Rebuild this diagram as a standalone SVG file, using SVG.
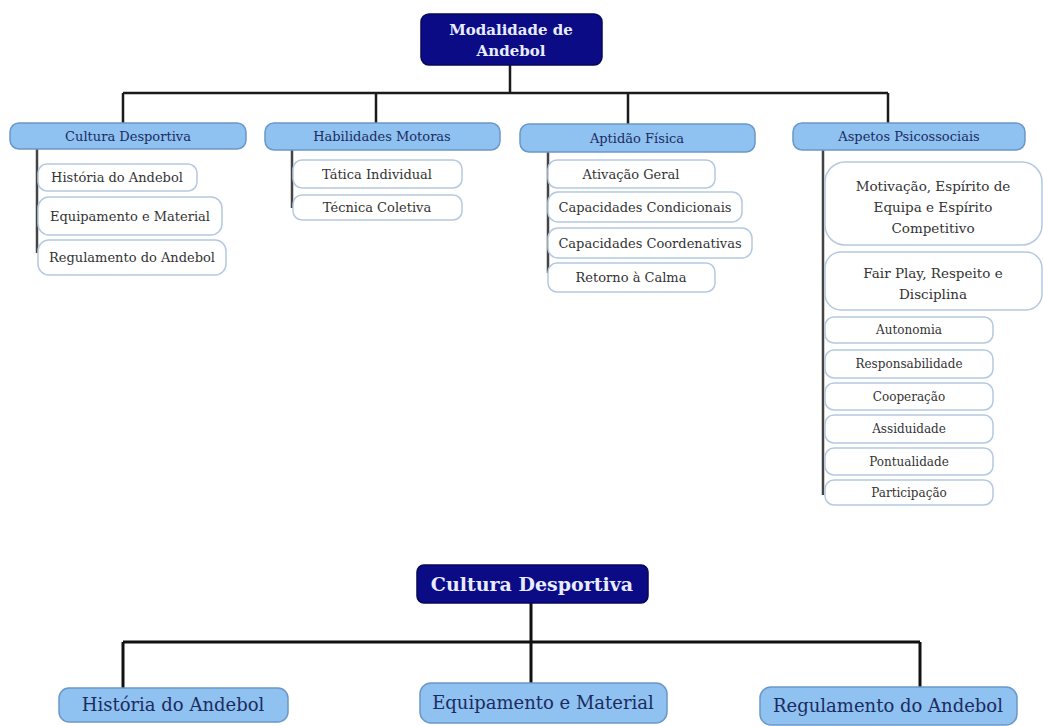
<svg xmlns="http://www.w3.org/2000/svg" width="1043" height="726" viewBox="0 0 1043 726">
<style>
.root{fill:#0b0b86;stroke:#07075a;stroke-width:1.5}
.rt{fill:#e8ecff;font-family:"DejaVu Serif","Liberation Serif",serif;font-weight:bold;text-anchor:middle}
.l1{fill:#8fc1f1;stroke:#6a98c8;stroke-width:1.5}
.l1t{fill:#1b2c5e;font-family:"DejaVu Serif","Liberation Serif",serif;font-size:13px;text-anchor:middle}
.ch{fill:#ffffff;stroke:#b4c9df;stroke-width:1.5}
.cht{fill:#333333;font-family:"DejaVu Serif","Liberation Serif",serif;font-size:13px;text-anchor:middle}
.big{font-size:13.5px}
.sm{font-size:12px}
.b2{fill:#8fc1f1;stroke:#6a98c8;stroke-width:1.5}
.b2t{fill:#1b2c5e;font-family:"DejaVu Serif","Liberation Serif",serif;font-size:18px;text-anchor:middle}
.ln{fill:none;stroke:#1a1a1a;stroke-width:2.5}
.ln2{fill:none;stroke:#111111;stroke-width:3}
.vl{fill:none;stroke:#444444;stroke-width:2.5}
</style>
<rect width="1043" height="726" fill="#ffffff"/>
<g id="connectors">
<path class="ln" d="M510 65V93M123 93H888M123 93V123M376 93V123M628 93V124M888 93V123"/>
<path class="vl" d="M37 149V253M292 150V208M548 152V273M823 150V495"/>
<path class="ln2" d="M531 603V642M123 642H920M123 642V688M531 642V683M920 642V687"/>
</g>
<g id="n-modalidade"><rect class="root" x="421" y="14" width="181" height="51" rx="8"/><text class="rt" font-size="15" x="511" y="35">Modalidade de</text><text class="rt" font-size="15" x="511" y="56">Andebol</text></g>
<g id="n-cultura"><rect class="l1" x="10" y="123" width="236" height="26" rx="9"/><text class="l1t" x="128" y="141">Cultura Desportiva</text></g>
<g id="n-habilidades"><rect class="l1" x="265" y="123" width="235" height="27" rx="9"/><text class="l1t" x="382" y="141">Habilidades Motoras</text></g>
<g id="n-aptidao"><rect class="l1" x="520" y="124" width="235" height="28" rx="9"/><text class="l1t" x="637" y="143">Aptidão Física</text></g>
<g id="n-aspetos"><rect class="l1" x="793" y="123" width="232" height="27" rx="9"/><text class="l1t" x="909" y="141">Aspetos Psicossociais</text></g>
<g id="n-historia"><rect class="ch" x="38" y="164" width="159" height="27" rx="9"/><text class="cht" x="117" y="182">História do Andebol</text></g>
<g id="n-equipamento"><rect class="ch" x="38" y="197" width="184" height="38" rx="11"/><text class="cht" x="130" y="221">Equipamento e Material</text></g>
<g id="n-regulamento"><rect class="ch" x="38" y="240" width="188" height="35" rx="11"/><text class="cht" x="132" y="262">Regulamento do Andebol</text></g>
<g id="n-tatica"><rect class="ch" x="293" y="160" width="169" height="28" rx="9"/><text class="cht" x="377" y="179">Tática Individual</text></g>
<g id="n-tecnica"><rect class="ch" x="293" y="195" width="169" height="25" rx="9"/><text class="cht" x="377" y="212">Técnica Coletiva</text></g>
<g id="n-ativacao"><rect class="ch" x="548" y="160" width="167" height="28" rx="9"/><text class="cht" x="631" y="179">Ativação Geral</text></g>
<g id="n-condicionais"><rect class="ch" x="548" y="192" width="194" height="30" rx="10"/><text class="cht" x="645" y="212">Capacidades Condicionais</text></g>
<g id="n-coordenativas"><rect class="ch" x="548" y="228" width="204" height="30" rx="10"/><text class="cht" x="650" y="248">Capacidades Coordenativas</text></g>
<g id="n-retorno"><rect class="ch" x="548" y="263" width="167" height="29" rx="9"/><text class="cht" x="631" y="282">Retorno à Calma</text></g>
<g id="n-motivacao"><rect class="ch" x="825" y="162" width="217" height="83" rx="20"/><text class="cht big" x="933" y="191">Motivação, Espírito de</text><text class="cht big" x="933" y="212">Equipa e Espírito</text><text class="cht big" x="933" y="233">Competitivo</text></g>
<g id="n-fairplay"><rect class="ch" x="825" y="252" width="217" height="58" rx="16"/><text class="cht big" x="933" y="278">Fair Play, Respeito e</text><text class="cht big" x="933" y="299">Disciplina</text></g>
<g id="n-autonomia"><rect class="ch" x="825" y="317" width="168" height="26" rx="9"/><text class="cht sm" x="909" y="334">Autonomia</text></g>
<g id="n-responsabilidade"><rect class="ch" x="825" y="350" width="168" height="28" rx="9"/><text class="cht sm" x="909" y="368">Responsabilidade</text></g>
<g id="n-cooperacao"><rect class="ch" x="825" y="383" width="168" height="27" rx="9"/><text class="cht sm" x="909" y="401">Cooperação</text></g>
<g id="n-assiduidade"><rect class="ch" x="825" y="415" width="168" height="28" rx="9"/><text class="cht sm" x="909" y="433">Assiduidade</text></g>
<g id="n-pontualidade"><rect class="ch" x="825" y="448" width="168" height="27" rx="9"/><text class="cht sm" x="909" y="466">Pontualidade</text></g>
<g id="n-participacao"><rect class="ch" x="825" y="480" width="168" height="25" rx="9"/><text class="cht sm" x="909" y="497">Participação</text></g>
<g id="n-cultura2"><rect class="root" x="417" y="565" width="231" height="38" rx="7"/><text class="rt" font-size="19" x="532" y="591">Cultura Desportiva</text></g>
<g id="n-historia2"><rect class="b2" x="59" y="688" width="229" height="34" rx="10"/><text class="b2t" x="173" y="711">História do Andebol</text></g>
<g id="n-equipamento2"><rect class="b2" x="420" y="683" width="247" height="40" rx="11"/><text class="b2t" x="543" y="709">Equipamento e Material</text></g>
<g id="n-regulamento2"><rect class="b2" x="760" y="687" width="257" height="38" rx="11"/><text class="b2t" x="888" y="712">Regulamento do Andebol</text></g>
</svg>
